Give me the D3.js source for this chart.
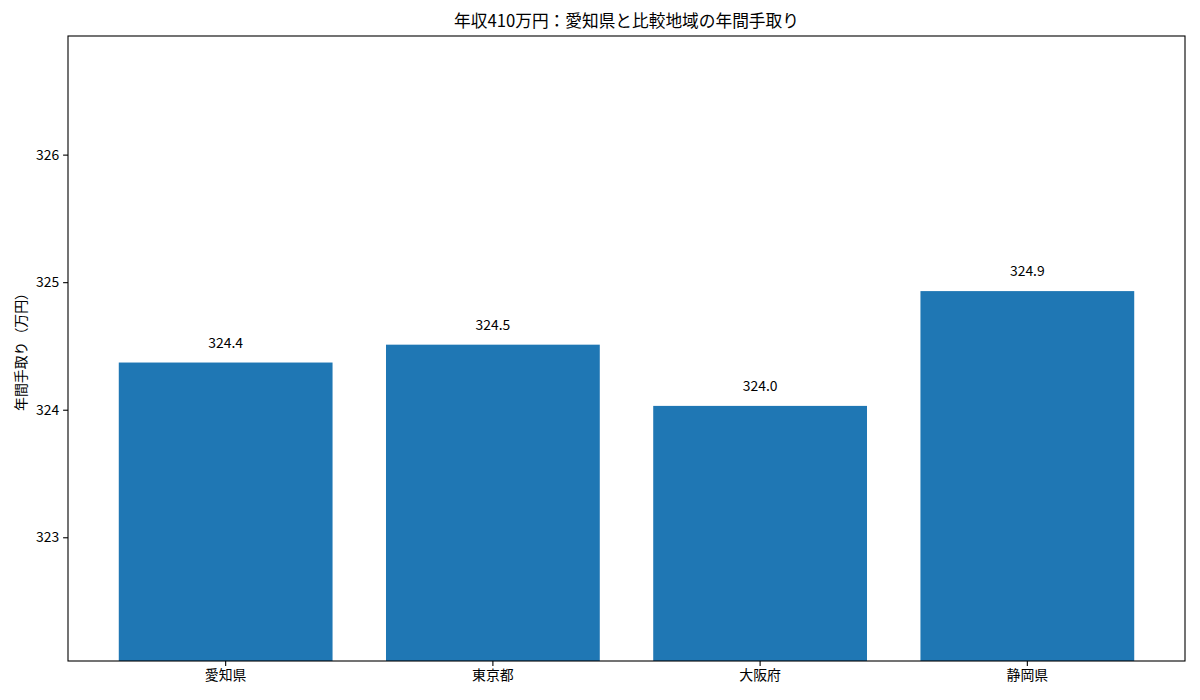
<!DOCTYPE html>
<html>
<head>
<meta charset="utf-8">
<script src="https://cdn.jsdelivr.net/npm/d3@7"></script>
<style>
  body { margin: 0; background: #fff; }
  text { font-family: "Noto Sans CJK JP", "Noto Sans", sans-serif; fill: #000; }
</style>
</head>
<body>
<svg id="chart" width="1200" height="700"></svg>
<script>
// data
var regions = ["愛知県", "東京都", "大阪府", "静岡県"];
var takeHome = [324.37, 324.51, 324.03, 324.93];
var yTicks = [323, 324, 325, 326];

var titleText = "年収410万円：愛知県と比較地域の年間手取り";
var yLabelText = "年間手取り（万円）";

var chart_left = 68;
var chart_right = 1185;
var chart_top = 36;
var chart_bottom = 661;
var bar_color = "#1f77b4";

var svg = d3.select("#chart");

// matplotlib-like limits: min-2 .. max+2
var yMin = d3.min(takeHome) - 2;
var yMax = d3.max(takeHome) + 2;

var xScale = d3.scaleBand()
    .domain(regions)
    .range([chart_left, chart_right])
    .paddingInner(0.2)
    .paddingOuter(0.19);

var yScale = d3.scaleLinear()
    .domain([yMin, yMax])
    .range([chart_bottom, chart_top]);

var data = regions.map(function(r, i) {
    return { region: r, value: takeHome[i] };
});

// bars
svg.append("g")
    .selectAll("rect")
    .data(data)
    .enter()
    .append("rect")
    .attr("x", function(d) { return xScale(d.region); })
    .attr("y", function(d) { return yScale(d.value); })
    .attr("width", xScale.bandwidth())
    .attr("height", function(d) { return chart_bottom - yScale(d.value); })
    .style("fill", bar_color);

// value labels
svg.append("g")
    .selectAll("text")
    .data(data)
    .enter()
    .append("text")
    .attr("x", function(d) { return xScale(d.region) + xScale.bandwidth() / 2; })
    .attr("y", function(d) { return yScale(d.value) - 15; })
    .attr("text-anchor", "middle")
    .style("font-size", "13.9px")
    .text(function(d) { return d.value.toFixed(1); });

// axes
var xAxis = d3.axisBottom(xScale).tickSizeOuter(0).tickSize(4.9).tickPadding(4);
var yAxis = d3.axisLeft(yScale).tickValues(yTicks).tickFormat(d3.format("d"))
    .tickSizeOuter(0).tickSize(4.9).tickPadding(4);

var gx = svg.append("g")
    .attr("transform", "translate(0," + chart_bottom + ")")
    .call(xAxis);
var gy = svg.append("g")
    .attr("transform", "translate(" + chart_left + ",0)")
    .call(yAxis);

[gx, gy].forEach(function(g) {
    g.select(".domain").remove();
    g.selectAll(".tick line").attr("stroke", "#000").attr("stroke-width", 1.1);
    g.selectAll(".tick text")
        .attr("fill", "#000")
        .style("font-size", "13.9px")
        .style("font-family", "\"Noto Sans CJK JP\", sans-serif");
});

// frame
svg.append("rect")
    .attr("x", chart_left)
    .attr("y", chart_top)
    .attr("width", chart_right - chart_left)
    .attr("height", chart_bottom - chart_top)
    .attr("fill", "none")
    .attr("stroke", "#000")
    .attr("stroke-width", 1.1);

// title
svg.append("text")
    .attr("x", (chart_left + chart_right) / 2)
    .attr("y", chart_top - 9)
    .attr("text-anchor", "middle")
    .style("font-size", "16.7px")
    .text(titleText);

// y label
svg.append("text")
    .attr("transform", "translate(26," + (chart_top + chart_bottom) / 2 + ") rotate(-90)")
    .attr("text-anchor", "middle")
    .style("font-size", "13.9px")
    .text(yLabelText);
</script>
</body>
</html>
